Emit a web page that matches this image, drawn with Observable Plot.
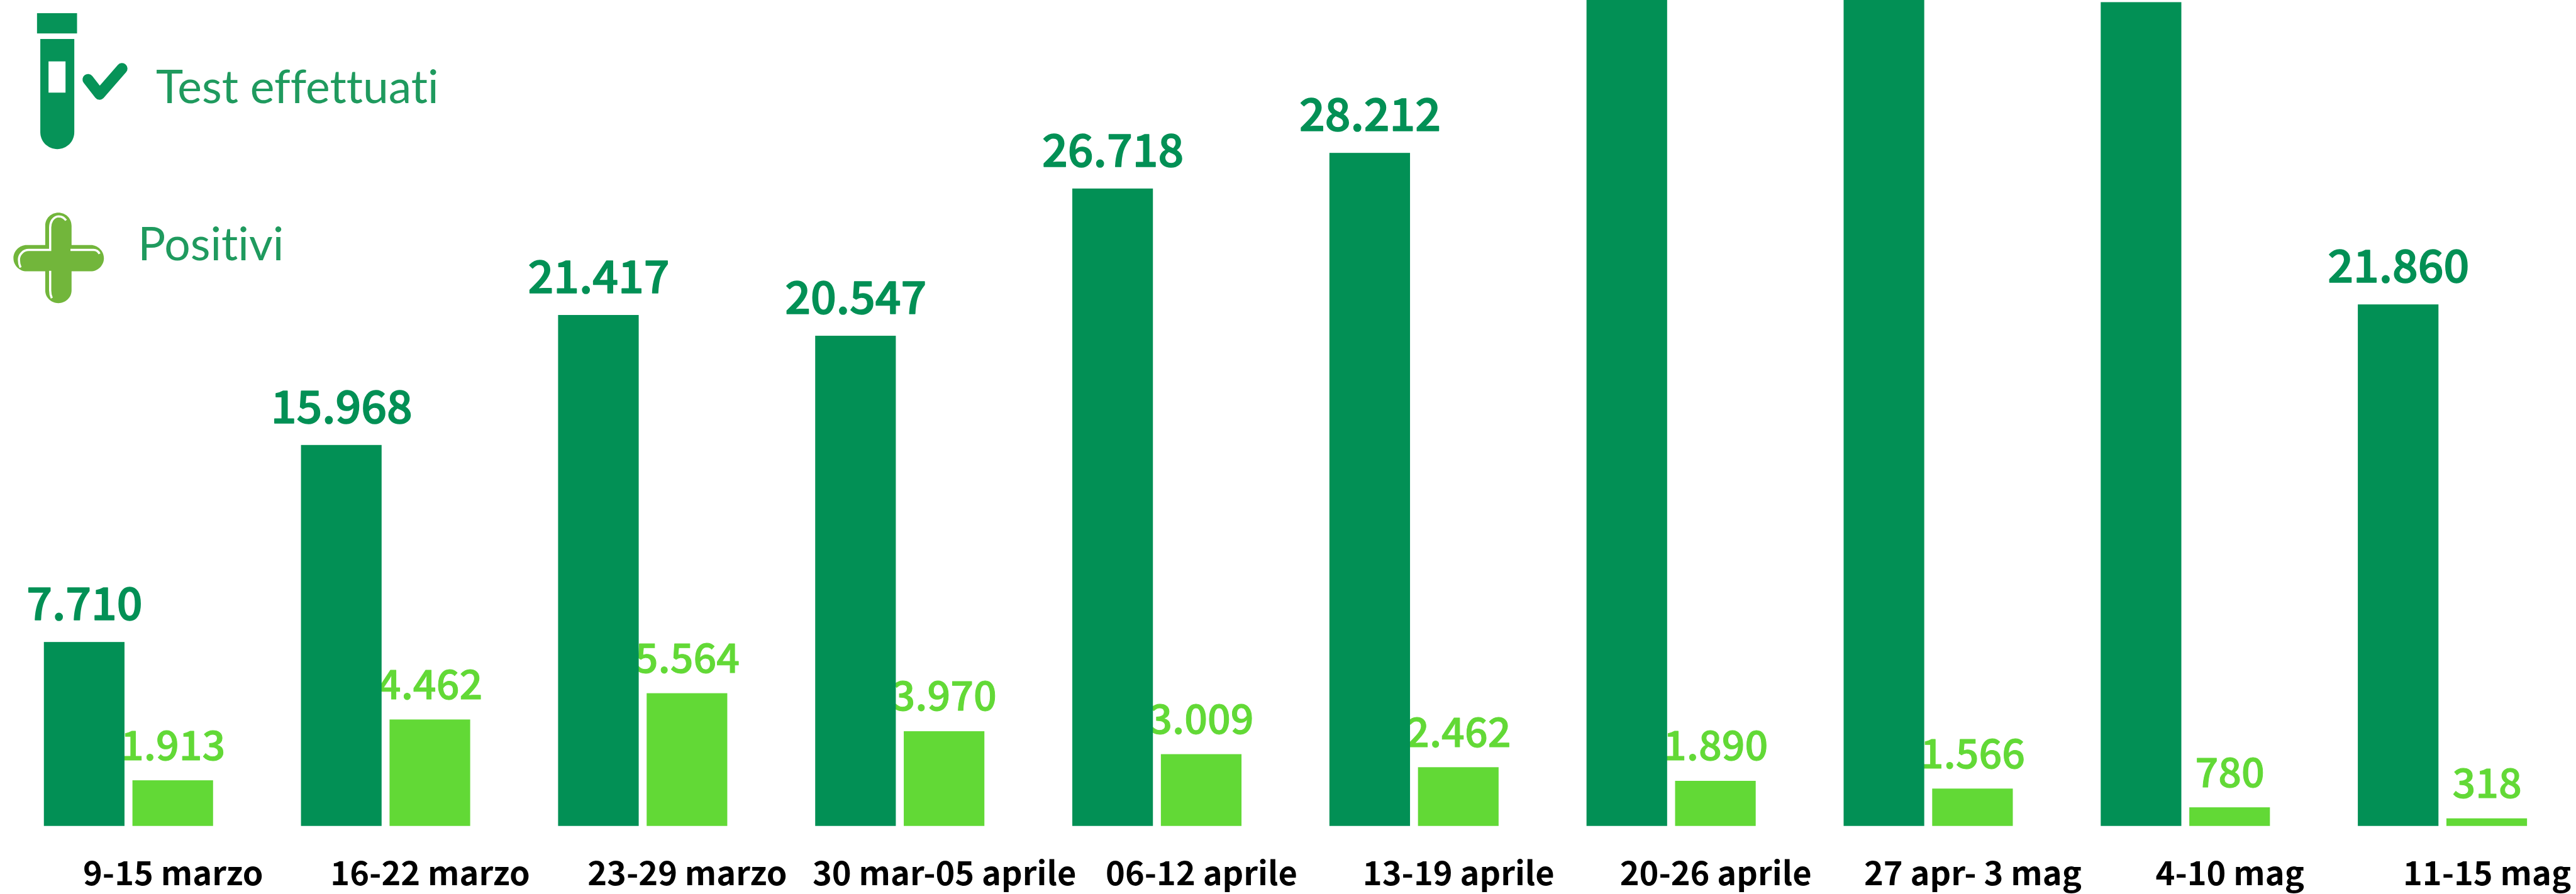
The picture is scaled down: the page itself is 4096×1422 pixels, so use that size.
<!DOCTYPE html>
<html><head><meta charset="utf-8">
<script src="https://cdn.jsdelivr.net/npm/d3@7"></script>
<script src="https://cdn.jsdelivr.net/npm/@observablehq/plot@0.6"></script>
<style>
html,body{margin:0;padding:0;background:#fff;overflow:hidden}
#wrap{position:relative;width:4096px;height:1422px;overflow:hidden}
#wrap>svg{position:absolute;left:0;top:0}
</style></head><body><div id="wrap"></div>
<script>
const weeks = ["9-15 marzo","16-22 marzo","23-29 marzo","30 mar-05 aprile","06-12 aprile","13-19 aprile","20-26 aprile","27 apr- 3 mag","4-10 mag","11-15 mag"];
const tests = [7710,15968,21417,20547,26718,28212,36000,37000,34530,21860];
const positives = [1913,4462,5564,3970,3009,2462,1890,1566,780,318];
const seriesNames = ["Test effettuati","Positivi"];
const legendFont = "Lato";
const labelFont = "'Noto Sans CJK SC'";
const darkGreen = "#029055", lightGreen = "#62d936";

const s = 4096/4697;
const rows = weeks.map((week,i)=>({week,tests:tests[i],positives:positives[i]}));
const num = d3.formatLocale({decimal:",",thousands:".",grouping:[3],currency:["€",""]}).format(",d");
const yTop = 34620;

const chart = Plot.plot({
  width:4096,height:1422,margin:0,
  style:{background:"transparent",fontFamily:labelFont},
  fx:{domain:weeks,axis:null,padding:0,round:false,range:[80*s,(80+468.8*10)*s]},
  x:{domain:seriesNames,axis:null,range:[0,308.5*s],paddingInner:0.0898,paddingOuter:0,round:false},
  y:{domain:[0,yTop],axis:null,range:[1506.5*s,0]},
  marks:[
    Plot.barY(rows,{fx:"week",x:()=>seriesNames[1],y:"positives",fill:lightGreen}),
    Plot.text(rows,{fx:"week",x:()=>seriesNames[1],y:"positives",text:d=>num(d.positives),fill:lightGreen,stroke:lightGreen,strokeWidth:1,
      fontSize:74*s,fontWeight:500,lineAnchor:"bottom",dy:-38*s}),
    Plot.barY(rows,{fx:"week",x:()=>seriesNames[0],y:"tests",fill:darkGreen}),
    Plot.text(rows.filter(d=>d.tests<30000),{fx:"week",x:()=>seriesNames[0],y:"tests",text:d=>num(d.tests),fill:darkGreen,stroke:darkGreen,strokeWidth:1.6,
      fontSize:82*s,fontWeight:500,lineAnchor:"bottom",dy:-41*s}),
    Plot.text(rows,{fx:"week",x:()=>seriesNames[1],y:()=>0,text:"week",fill:"#000",
      fontSize:60*s,fontWeight:700,lineAnchor:"bottom",dy:108*s})
  ]
});
const wrap = document.getElementById("wrap");
wrap.appendChild(chart);

// Legend drawn over the chart, in reference pixels scaled by viewBox
const lg = d3.create("svg").attr("width",4096).attr("height",1422).attr("viewBox","0 0 4697 1631");
const tube="#069358", plus="#72b63b", legendText="#1f9a5e";
lg.append("rect").attr("x",67).attr("y",24).attr("width",73).attr("height",37).attr("fill",tube);
lg.append("path").attr("d","M73 71H135V241C135 259 121 272 104 272C87 272 73 259 73 241Z").attr("fill",tube);
lg.append("rect").attr("x",88).attr("y",112).attr("width",31).attr("height",57).attr("fill","#fff");
lg.append("path").attr("d","M160 145L181 172L222 125").attr("fill","none").attr("stroke",tube).attr("stroke-width",20).attr("stroke-linecap","round").attr("stroke-linejoin","round");
lg.append("path").attr("d","M82 412C82 398 93 388 106 388C119 388 130 398 130 412V447H165C178 447 189 458 189 471C189 484 178 495 165 495H130V530C130 543 119 553 106 553C93 553 82 543 82 530V495H48C35 495 24 484 24 471C24 458 35 447 48 447H82Z").attr("fill",plus);
lg.append("path").attr("d","M120 402C115 395 110 394 104 395C96 397 91 405 91 415V456H52C42 456 34 464 34 474C34 480 35 484 37 488M128 456H170C175 456 179 459 181 463M91 494V530C91 536 92 540 94 544").attr("fill","none").attr("stroke","#fff").attr("stroke-width",4);
const lt=(x,y,t)=>lg.append("text").attr("x",x).attr("y",y).attr("fill",legendText).attr("font-family",legendFont).attr("font-size",84).attr("font-weight",400).style("font-variant-ligatures","none").text(t);
lt(284,188,seriesNames[0]);
lt(251,475,seriesNames[1]);
wrap.appendChild(lg.node());
</script></body></html>
